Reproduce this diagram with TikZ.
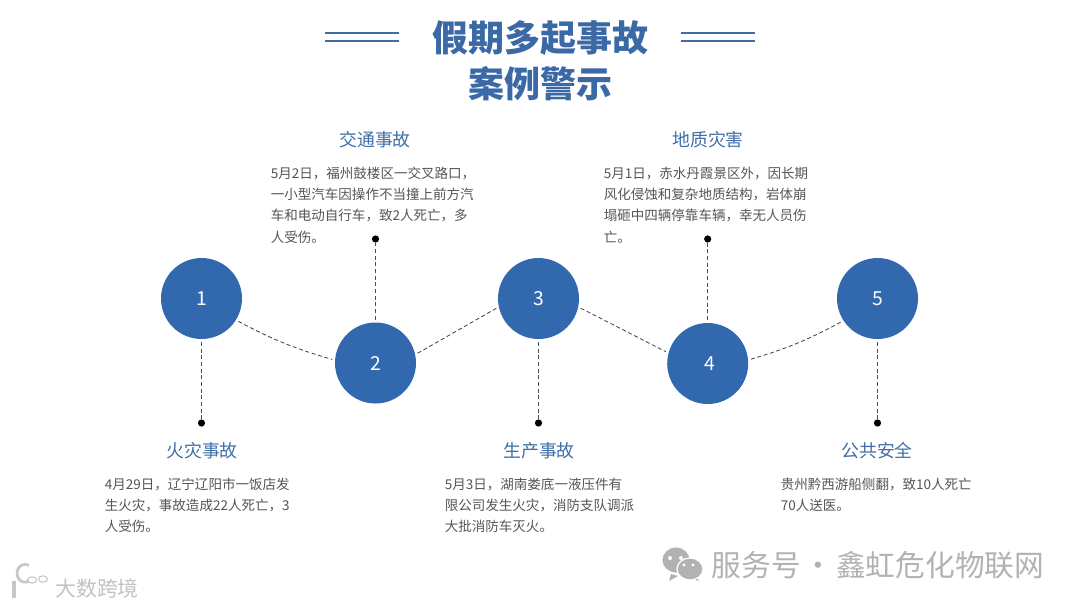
\documentclass[tikz,border=0pt]{standalone}
\usepackage{fontspec}
\setmainfont{Noto Sans CJK SC}
\newfontfamily\titlefont{Noto Sans CJK SC Black}
\usetikzlibrary{positioning,shapes.geometric}
\definecolor{stepblue}{HTML}{3268AE}
\definecolor{titleblue}{HTML}{3A69A6}
\definecolor{headblue}{HTML}{3F6EA8}
\definecolor{bodygray}{HTML}{555555}
\definecolor{markgray}{HTML}{B2B2B2}
\begin{document}
\begin{tikzpicture}[x=0.75pt,y=-0.75pt,
  stepnode/.style={circle,fill=stepblue,minimum size=60.75pt,inner sep=0pt,text=white,font={\fontsize{14.5}{14.5}\selectfont}},
  enddot/.style={circle,fill=black,minimum size=5.4pt,inner sep=0pt},
  headtext/.style={text=headblue,font={\fontsize{13.4}{16}\selectfont}},
  casetext/.style={anchor=north west,inner sep=0pt,align=left,text=bodygray,font={\fontsize{10.15}{16}\selectfont}},
  titleline/.style={draw=titleblue!85!gray,line width=1pt},
  stemline/.style={draw=black!70,densely dashed,line width=0.8pt,shorten <=2pt},
  linkline/.style={draw=black!75,densely dashed,line width=0.6pt,shorten <=2pt,shorten >=2pt}]
\useasboundingbox (0,0) rectangle (1080,608);
% title
\node[text=titleblue,align=center,inner sep=0pt,font={\fontsize{27}{34.5}\selectfont\titlefont}] (title) at (540,60.5) {假期多起事故\\案例警示};
\coordinate (la) at (325,33); \coordinate (lb) at (399,33);
\coordinate (lc) at (325,41); \coordinate (ld) at (399,41);
\coordinate (ra) at (681,33); \coordinate (rb) at (755,33);
\coordinate (rc) at (681,41); \coordinate (rd) at (755,41);
\draw[titleline] (la) -- (lb);
\draw[titleline] (lc) -- (ld);
\draw[titleline] (ra) -- (rb);
\draw[titleline] (rc) -- (rd);
% steps
\node[stepnode] (s1) at (201.5,298.5) {1};
\node[stepnode] (s2) at (375.5,363) {2};
\node[stepnode] (s3) at (538.5,298.5) {3};
\node[stepnode] (s4) at (707.7,363.5) {\kern3pt 4};
\node[stepnode] (s5) at (877.5,298.5) {5};
\node[enddot] (d1) at (201.5,423) {};
\node[enddot] (d2) at (375.5,239) {};
\node[enddot] (d3) at (538.5,423) {};
\node[enddot] (d4) at (707.7,239) {};
\node[enddot] (d5) at (877.5,423) {};
\draw[stemline] (s1) -- (d1);
\draw[stemline] (s2) -- (d2);
\draw[stemline] (s3) -- (d3);
\draw[stemline] (s4) -- (d4);
\draw[stemline] (s5) -- (d5);
\draw[linkline] (s1.-32) to[bend right=6] (s2.176);
\draw[linkline] (s2.12) -- (s3.192);
\draw[linkline] (s3.-12) -- (s4.165);
\draw[linkline] (s4.5) to[bend right=6] (s5.213);
% texts
\node[headtext] (h1) at (202,451) {火灾事故};
\node[headtext] (h2) at (375,140) {交通事故};
\node[headtext] (h3) at (539,451) {生产事故};
\node[headtext] (h4) at (708,140) {地质灾害};
\node[headtext] (h5) at (877,451) {公共安全};
\node[casetext] (t1) at (104.5,477.5) {4月29日，辽宁辽阳市一饭店发\\生火灾，事故造成22人死亡，3\\人受伤。};
\node[casetext] (t2) at (270.5,166.5) {5月2日，福州鼓楼区一交叉路口，\\一小型汽车因操作不当撞上前方汽\\车和电动自行车，致2人死亡，多\\人受伤。};
\node[casetext] (t3) at (444.5,477.5) {5月3日，湖南娄底一液压件有\\限公司发生火灾，消防支队调派\\大批消防车灭火。};
\node[casetext] (t4) at (603.5,166.5) {5月1日，赤水丹霞景区外，因长期\\风化侵蚀和复杂地质结构，岩体崩\\塌砸中四辆停靠车辆，幸无人员伤\\亡。};
\node[casetext] (t5) at (780.5,477.5) {贵州黔西游船侧翻，致10人死亡\\70人送医。};
% watermarks
\fill[markgray] (671,574) -- (669,581) -- (678,576) -- cycle;
\fill[markgray,draw=white,line width=0.6pt] (676,560) ellipse (14 and 13);
\fill[markgray] (696,577) -- (699,581) -- (690,578) -- cycle;
\fill[markgray,draw=white,line width=0.9pt] (690,569) ellipse (13 and 11);
\fill[white] (670,558) circle (2);
\fill[white] (681,558) circle (2);
\fill[white] (684,565) circle (1.7);
\fill[white] (693,565) circle (1.7);
\node[text=markgray,inner sep=0pt,font={\fontsize{22.3}{22.3}\selectfont}] (mark) at (878,565) {服务号\kern2pt·\kern2pt鑫虹危化物联网};
\draw[black!22,line width=2.4pt] (14,581) -- (14,598);
\draw[black!22,line width=2pt] (29,581) arc (60:300:8 and 9);
\draw[black!22,line width=0.8pt] (32,580) ellipse (4.5 and 3.2);
\draw[black!22,line width=0.8pt] (43,579) ellipse (4.5 and 3.2);
\node[text=black!24,inner sep=0pt,font={\fontsize{15.7}{16}\selectfont}] (logo) at (97,589) {大数跨境};
\end{tikzpicture}
\end{document}
